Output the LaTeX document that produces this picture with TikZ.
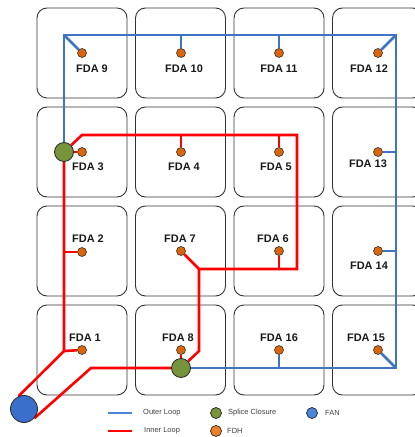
\documentclass[tikz,border=0pt]{standalone}
\usepackage{fontspec}
\setmainfont{Liberation Sans}
\usetikzlibrary{backgrounds}
\definecolor{boxgray}{RGB}{50,50,50}
\definecolor{loopblue}{RGB}{62,116,196}
\definecolor{loopred}{RGB}{255,0,0}
\definecolor{spgreen}{RGB}{119,147,60}
\definecolor{fdhor}{RGB}{217,102,10}
\definecolor{fanblue}{RGB}{58,112,204}
\definecolor{legor}{RGB}{240,128,40}
\definecolor{legblue}{RGB}{74,134,216}
\begin{document}
\begin{tikzpicture}[x=1bp,y=-1bp,
 box/.style={draw=boxgray, line width=0.9bp, rounded corners=10bp},
 fdh/.style={circle, draw=black!80, fill=fdhor, line width=0.6bp, inner sep=0pt, minimum size=9bp},
 splice/.style={circle, draw=black!85, fill=spgreen, line width=0.8bp, inner sep=0pt, minimum size=19bp},
 fan/.style={circle, draw=black!85, fill=fanblue, line width=0.8bp, inner sep=0pt, minimum size=27bp},
 lbl/.style={font=\bfseries\fontsize{11}{12}\selectfont, text=black!90, inner sep=0pt},
 outer/.style={draw=loopblue, line width=2.6bp},
 inner/.style={draw=loopred, line width=2.6bp},
 legline/.style={line width=2.2bp},
 legdot/.style={circle, draw=black!85, line width=0.7bp, inner sep=0pt, minimum size=11bp},
 leg/.style={font=\fontsize{7.5}{9}\selectfont, text=black!75, anchor=west, inner sep=0pt}]
\useasboundingbox (0,0) rectangle (414,437);
\clip (0,0) rectangle (414,437);
% FDH dots
\node[fdh] (d9) at (82,53) {};  \node[fdh] (d10) at (181,53) {}; \node[fdh] (d11) at (279,53) {}; \node[fdh] (d12) at (378,53) {};
\node[fdh] (d3) at (82,152) {}; \node[fdh] (d4) at (181,152) {}; \node[fdh] (d5) at (279,152) {}; \node[fdh] (d13) at (378,152) {};
\node[fdh] (d2) at (82,252) {}; \node[fdh] (d7) at (181,251) {}; \node[fdh] (d6) at (279,251) {}; \node[fdh] (d14) at (378,251) {};
\node[fdh] (d1) at (82,350) {}; \node[fdh] (d8) at (181,350) {}; \node[fdh] (d16) at (279,350) {}; \node[fdh] (d15) at (378,350) {};
% splice closures and FAN
\node[splice] (s3) at (64,152) {};
\node[splice] (s8) at (181,368) {};
\node[fan] (fan) at (24,409) {};
% outer loop bends
\coordinate (b1) at (64,35);
\coordinate (b2) at (396,35);
\coordinate (b3) at (396,368);
\coordinate (b10) at (181,35);
\coordinate (b11) at (279,35);
\coordinate (b13) at (396,152);
\coordinate (b14) at (396,251);
\coordinate (b16) at (279,368);
% inner loop bends
\coordinate (r1) at (82,135);
\coordinate (r2) at (297,135);
\coordinate (r3) at (297,269);
\coordinate (r4) at (199,269);
\coordinate (r5) at (199,351);
\coordinate (rL) at (64,351);
\coordinate (rB) at (91,368);
\coordinate (r4x) at (181,135);
\coordinate (r5x) at (279,135);
\coordinate (r6) at (279,269);
\coordinate (r2L) at (64,252);
\begin{scope}[on background layer]
% blocks
\foreach \x in {37,135.5,234,332.5}
  \foreach \y in {8,107,206,305}
    \draw[box] (\x,\y) rectangle ++(90,90);
% outer loop
\draw[outer] (s3) -- (b1) -- (b2) -- (b3) -- (s8);
\draw[outer] (b1) -- (d9);
\draw[outer] (b10) -- (d10);
\draw[outer] (b11) -- (d11);
\draw[outer] (b2) -- (d12);
\draw[outer] (b13) -- (d13);
\draw[outer] (b14) -- (d14);
\draw[outer] (b3) -- (d15);
\draw[outer] (b16) -- (d16);
% inner loop
\draw[inner] (s3) -- (r1) -- (r2) -- (r3) -- (r4) -- (r5) -- (s8);
\draw[inner] (fan.113) -- (rL) -- (s3);
\draw[inner] (fan.-42) -- (rB) -- (s8);
\draw[inner] (r4x) -- (d4);
\draw[inner] (r5x) -- (d5);
\draw[inner] (r6) -- (d6);
\draw[inner] (r4) -- (d7);
\draw[inner] (r2L) -- (d2);
\draw[inner] (rL) -- (d1);
\draw[inner] (s3) -- (d3);
\draw[inner] (s8) -- (d8);
\end{scope}
% labels
\node[lbl] (l9) at (92,69) {FDA 9};
\node[lbl] (l10) at (184,69) {FDA 10};
\node[lbl] (l11) at (279,69) {FDA 11};
\node[lbl] (l12) at (369,69) {FDA 12};
\node[lbl] (l3) at (88,167) {FDA 3};
\node[lbl] (l4) at (184,167) {FDA 4};
\node[lbl] (l5) at (276,167) {FDA 5};
\node[lbl] (l13) at (368,164) {FDA 13};
\node[lbl] (l2) at (88,239) {FDA 2};
\node[lbl] (l7) at (180,239) {FDA 7};
\node[lbl] (l6) at (273,239) {FDA 6};
\node[lbl] (l14) at (369,266) {FDA 14};
\node[lbl] (l1) at (85,338) {FDA 1};
\node[lbl] (l8) at (178,338) {FDA 8};
\node[lbl] (l16) at (279,338) {FDA 16};
\node[lbl] (l15) at (366,338) {FDA 15};
% legend
\coordinate (lo1) at (108,413); \coordinate (lo2) at (132,413);
\coordinate (li1) at (108,431); \coordinate (li2) at (132,431);
\draw[legline, draw=legblue] (lo1) -- (lo2);
\draw[legline, draw=loopred] (li1) -- (li2);
\node[leg] (tOuter) at (143,413) {Outer Loop};
\node[leg] (tInner) at (144,431) {Inner Loop};
\node[legdot, fill=spgreen] (gSplice) at (216,413) {};
\node[leg] (tSplice) at (228,413) {Splice Closure};
\node[legdot, fill=legor] (gFDH) at (216,431) {};
\node[leg] (tFDH) at (227,431) {FDH};
\node[legdot, fill=legblue] (gFAN) at (312,413) {};
\node[leg] (tFAN) at (325,413) {FAN};
\end{tikzpicture}
\end{document}
